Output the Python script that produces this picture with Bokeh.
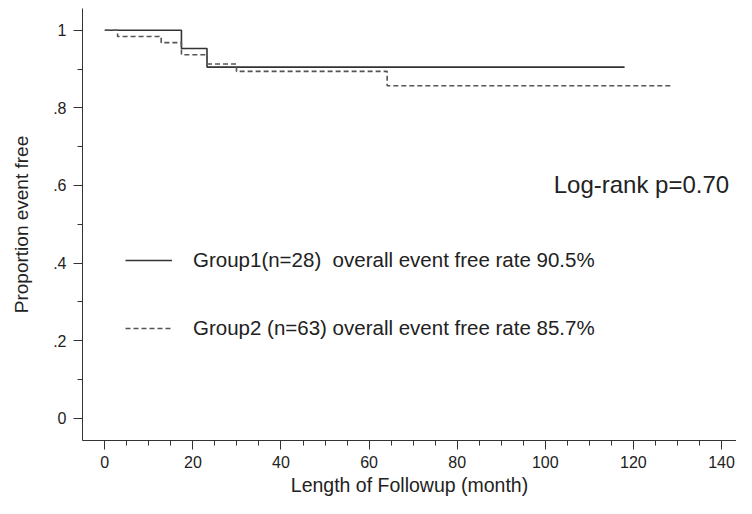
from bokeh.plotting import figure
from bokeh.models import (FixedTicker, CustomJSTickFormatter, Range1d, Legend,
                          LegendItem, Label)
from bokeh.embed import file_html
from bokeh.resources import INLINE

# --- data ---
g1_time = [0, 17.4, 23.2, 118.0]
g1_surv = [1.0, 0.953, 0.905, 0.905]
g2_time = [0, 2.9, 12.8, 17.4, 23.2, 29.9, 64.1, 129.0]
g2_surv = [1.0, 0.984, 0.968, 0.937, 0.913, 0.894, 0.857, 0.857]
x_ticks = [0, 20, 40, 60, 80, 100, 120, 140]
x_minor = list(range(0, 145, 5))
y_ticks = [0, 0.2, 0.4, 0.6, 0.8, 1.0]
y_minor = [i / 10 for i in range(0, 11)]
label1 = "Group1(n=28)  overall event free rate 90.5%"
label2 = "Group2 (n=63) overall event free rate 85.7%"
logrank = "Log-rank p=0.70"

FONT = "Liberation Sans"
TXT = "#222222"

p = figure(width=736, height=498, output_backend="svg", toolbar_location=None,
           x_range=Range1d(-5.06, 143.4), y_range=Range1d(-0.057, 1.056),
           min_border_left=82, min_border_right=0, min_border_top=8,
           min_border_bottom=56)
p.outline_line_color = None
p.xgrid.visible = False
p.ygrid.visible = False
p.background_fill_color = "white"

r1 = p.step(g1_time, g1_surv, mode="after", line_color="#333333", line_width=1.6)
r2 = p.step(g2_time, g2_surv, mode="after", line_color="#555555", line_width=1.6,
            line_dash="5 3")

for ax in (p.xaxis[0], p.yaxis[0]):
    ax.axis_line_color = "#333333"
    ax.major_tick_line_color = "#333333"
    ax.minor_tick_line_color = "#333333"
    ax.major_tick_in = 0
    ax.major_tick_out = 9
    ax.minor_tick_in = 0
    ax.minor_tick_out = 5
    ax.major_label_text_font = FONT
    ax.major_label_text_font_size = "16px"
    ax.major_label_text_color = TXT
    ax.axis_label_text_font = FONT
    ax.axis_label_text_font_style = "normal"
    ax.axis_label_text_color = TXT

p.xaxis.axis_label_text_font_size = "19.5px"
p.yaxis.axis_label_text_font_size = "19px"
p.xaxis.ticker = FixedTicker(ticks=x_ticks, minor_ticks=x_minor)
p.yaxis.ticker = FixedTicker(ticks=y_ticks, minor_ticks=y_minor)
p.yaxis.formatter = CustomJSTickFormatter(code="""
    if (Math.abs(tick) < 1e-9) return "0";
    if (Math.abs(tick - 1) < 1e-9) return "1";
    return tick.toFixed(1).replace(/^0/, "");
""")
p.xaxis.axis_label = "Length of Followup (month)"
p.yaxis.axis_label = "Proportion event free"
p.xaxis.major_label_standoff = 6
p.yaxis.major_label_standoff = 7
p.xaxis.axis_label_standoff = 3
p.yaxis.axis_label_standoff = 18

legend = Legend(items=[LegendItem(label=label1, renderers=[r1]),
                       LegendItem(label=label2, renderers=[r2])],
                location=(43, 100), orientation="vertical",
                glyph_width=47, glyph_height=24, label_height=24,
                label_standoff=21, spacing=44, padding=0, margin=0,
                border_line_color=None, background_fill_alpha=0,
                label_text_font=FONT, label_text_font_size="20.5px",
                label_text_color=TXT)
p.add_layout(legend)

p.add_layout(Label(x=101.9, y=0.603, text=logrank, text_font=FONT,
                   text_font_size="24px", text_color=TXT,
                   text_baseline="middle", text_align="left"))

open("out.html", "w").write(file_html(p, INLINE))
